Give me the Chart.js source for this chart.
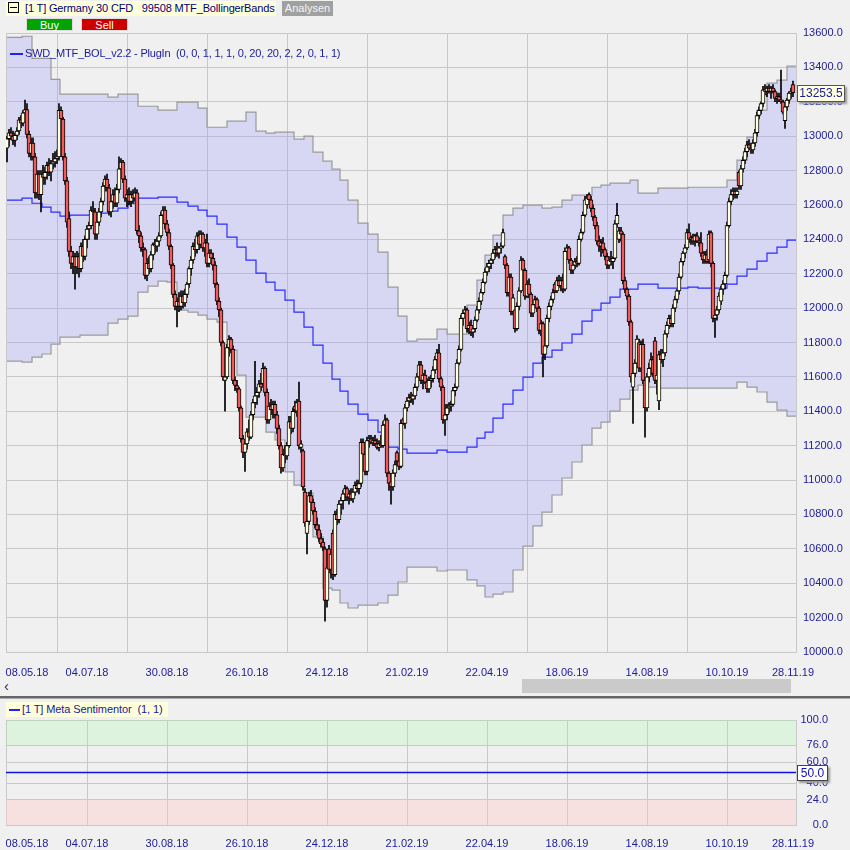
<!DOCTYPE html>
<html>
<head>
<meta charset="utf-8">
<script src="https://cdn.jsdelivr.net/npm/chart.js@4.4.0/dist/chart.umd.min.js"></script>
<style>
body{margin:0;background:#f0f0f0;font-family:"Liberation Sans",Arial,sans-serif;}
#wrap{position:relative;width:850px;height:850px;overflow:hidden;background:#f0f0f0;}
.abs{position:absolute;white-space:nowrap;}
#head{left:6px;top:1px;width:270px;height:15px;line-height:15px;background:#ffffd9;color:#00007a;font-size:11px;letter-spacing:-0.15px;overflow:hidden;}
#head .ico{display:inline-block;position:relative;width:9px;height:9px;border:1px solid #000;margin:0 6px 0 2px;vertical-align:-1px;}
#head .ico:after{content:"";position:absolute;left:1px;top:4px;width:7px;height:1px;background:#000;}
#analysen{left:282px;top:1px;width:51px;height:15px;line-height:15px;background:#a0a0a0;color:#f4f4f4;font-size:11px;text-align:center;}
#buy,#sell{top:18px;width:47px;height:13px;line-height:12px;color:#fff;font-size:11px;text-align:center;border:1px solid #ddd;box-sizing:border-box;}
#buy{left:26px;background:#00a300;}
#sell{left:81px;background:#cc0000;}
#legend1{left:10px;top:46px;font-size:11px;letter-spacing:-0.2px;color:#1a1a9a;line-height:14px;}
.mark{display:inline-block;width:13px;height:2px;background:#2020ff;vertical-align:middle;margin-right:2px;}
#last{left:797px;top:81px;width:46px;height:15px;line-height:15px;background:#ffffe1;border:1px solid #555;box-shadow:2px 2px 2px #999;font-size:12px;color:#1a1a9a;text-align:center;}
#thumb{left:522px;top:679px;width:269px;height:14px;background:#cacaca;}
#arrow{left:4px;top:677px;font-size:15px;color:#333;}
#sep{left:0;top:696px;width:850px;height:2px;background:#666;}
#sep2{left:0;top:698px;width:850px;height:1px;background:#aaa;}
#legend2{left:6px;top:702px;width:162px;height:15px;line-height:15px;background:#ffffd9;font-size:11px;letter-spacing:-0.1px;color:#1a1a9a;}
#fifty{left:797px;top:765px;width:29px;height:14px;line-height:14px;background:#fff;border:1px solid #444;box-shadow:2px 2px 2px #999;font-size:12px;color:#1010c0;text-align:center;}
</style>
</head>
<body>
<div id="wrap">
  <div class="abs" id="head"><span class="ico"></span>[1 T] Germany 30 CFD&nbsp;&nbsp; 99508 MTF_BollingerBands</div>
  <div class="abs" id="analysen">Analysen</div>
  <div class="abs" id="buy">Buy</div>
  <div class="abs" id="sell">Sell</div>
  <div class="abs" style="left:0;top:0;width:850px;height:680px;"><canvas id="main"></canvas></div>
  <div class="abs" id="legend1"><span class="mark"></span>SWD_MTF_BOL_v2.2 - PlugIn&nbsp; (0, 0, 1, 1, 1, 0, 20, 20, 2, 2, 0, 1, 1)</div>
  <div class="abs" id="last"></div>
  <div class="abs" id="arrow">&#8249;</div>
  <div class="abs" id="thumb"></div>
  <div class="abs" id="sep"></div>
  <div class="abs" id="sep2"></div>
  <div class="abs" style="left:0;top:700px;width:828px;height:150px;"><canvas id="sub"></canvas></div>
  <div class="abs" id="legend2"><span class="mark" style="width:11px;margin-left:3px;"></span>[1 T] Meta Sentimentor&nbsp; (1, 1)</div>
  <div class="abs" id="fifty"></div>
</div>
<script>
// Tageskerzen, Index = Handelstag ab 08.05.18
const opens = [
12930,12985,13020,13000,12975,13005,13030,13095,13075,13135,
13155,13010,12900,12960,12880,12670,12780,12660,12780,12760,
12790,12830,12790,12840,12850,12870,12880,13150,13100,12880,
12740,12520,12330,12260,12300,12240,12300,12230,12360,12300,
12400,12460,12480,12570,12560,12430,12500,12560,12620,12710,
12750,12700,12560,12620,12660,12610,12690,12810,12850,12750,
12640,12660,12620,12660,12640,12670,12450,12420,12350,12340,
12190,12260,12230,12310,12370,12360,12390,12420,12540,12570,
12490,12440,12360,12250,12080,12010,12040,12010,12070,12030,
12080,12140,12230,12280,12360,12340,12420,12370,12430,12350,
12380,12260,12320,12290,12250,12140,12040,11990,11800,11580,
11600,11770,11820,11760,11580,11550,11530,11420,11240,11160,
11210,11280,11250,11380,11450,11490,11510,11560,11560,11650,
11510,11350,11430,11410,11440,11380,11300,11200,11070,11150,
11140,11200,11340,11300,11430,11400,11460,11190,11170,10930,
10690,10760,10910,10870,10820,10740,10710,10660,10640,10600,
10300,10600,10480,10690,10450,10800,10770,10860,10880,10920,
10950,10900,10920,10890,10930,10970,10950,10980,11220,11150,
11050,11230,11240,11220,11230,11210,11190,11210,11200,11320,
11350,11040,10990,10960,11040,11160,11110,11080,11350,11330,
11420,11460,11480,11470,11490,11540,11600,11670,11580,11610,
11570,11530,11580,11590,11640,11700,11740,11590,11540,11350,
11380,11420,11430,11440,11520,11540,11680,11760,11940,11970,
11990,11880,11900,11860,11880,11930,11990,12040,12090,12150,
12210,12240,12260,12280,12320,12340,12320,12350,12360,12300,
12250,12090,12180,11980,11990,11880,12010,12100,12280,12220,
12070,12140,12080,11970,12020,12050,12000,11870,11910,11730,
11780,11940,12010,12050,12140,12100,12160,12130,12160,12110,
12330,12350,12280,12220,12250,12270,12260,12400,12440,12540,
12600,12660,12630,12580,12530,12480,12390,12360,12380,12340,
12300,12250,12280,12270,12290,12490,12400,12450,12430,12160,
12110,12070,11920,11540,11620,11680,11800,11650,11790,11580,
11420,11600,11650,11700,11810,11580,11460,11730,11700,11740,
11850,11900,11940,11910,12000,12050,12100,12180,12270,12320,
12350,12440,12400,12410,12390,12420,12390,12380,12320,12280,
12310,12280,12440,12260,11940,11960,11990,12040,12110,12140,
12190,12480,12620,12660,12680,12660,12790,12710,12810,12860,
12910,12950,12930,12920,12960,13020,13120,13150,13190,13270,
13260,13280,13260,13280,13260,13220,13230,13210,13200,13090,
13170,13210,13250,13300];
const highs = [
13000,13040,13050,13030,13020,13050,13110,13120,13150,13210,
13190,13030,12990,12990,12900,12800,12800,12800,12830,12820,
12850,12870,12860,12900,12910,12920,13190,13170,13110,12900,
12760,12560,12360,12330,12320,12330,12320,12380,12400,12420,
12480,12500,12590,12620,12580,12520,12580,12640,12730,12770,
12780,12720,12650,12690,12700,12720,12880,12870,12860,12770,
12690,12700,12680,12690,12700,12690,12480,12440,12380,12350,
12290,12300,12330,12380,12400,12410,12440,12560,12590,12590,
12510,12460,12370,12260,12100,12060,12090,12100,12100,12110,
12150,12240,12300,12380,12400,12440,12450,12450,12440,12400,
12430,12340,12340,12320,12270,12150,12060,12000,11810,11640,
11790,11840,11830,11780,11600,11580,11540,11430,11260,11230,
11300,11350,11400,11470,11690,11540,11580,11620,11680,11660,
11530,11450,11470,11460,11460,11400,11320,11220,11180,11200,
11220,11370,11370,11420,11460,11470,11570,11230,11180,10950,
10780,10930,10940,10890,10840,10780,10740,10690,10660,10610,
10510,10620,10590,10710,10820,10830,10880,10900,10940,10970,
10960,10940,10950,10950,10990,11000,11000,11240,11240,11160,
11250,11260,11260,11250,11260,11240,11230,11260,11340,11380,
11360,11050,11010,11060,11110,11170,11130,11350,11360,11440,
11480,11500,11510,11500,11560,11620,11690,11690,11620,11640,
11590,11600,11610,11660,11720,11760,11790,11600,11550,11440,
11440,11450,11460,11540,11560,11700,11780,11960,11990,12010,
12000,11920,11930,11900,11950,12010,12060,12110,12170,12230,
12260,12280,12290,12340,12360,12380,12360,12380,12460,12310,
12260,12200,12200,12080,12010,12030,12120,12300,12290,12230,
12160,12170,12090,12040,12070,12060,12010,11930,11920,11800,
11960,12030,12070,12110,12150,12180,12190,12180,12200,12350,
12370,12360,12290,12270,12290,12300,12420,12460,12560,12650,
12660,12670,12650,12600,12540,12500,12420,12400,12410,12350,
12320,12300,12330,12300,12510,12610,12470,12470,12440,12180,
12120,12080,11930,11640,11700,11840,11820,11810,11820,11590,
11620,11680,11740,11720,11830,11640,11750,11760,11760,11870,
11920,11960,11960,12020,12070,12110,12200,12290,12330,12370,
12460,12490,12420,12430,12430,12440,12410,12440,12330,12330,
12340,12450,12450,12270,11990,12010,12090,12130,12160,12210,
12500,12640,12690,12700,12700,12700,12800,12830,12880,12930,
12970,12980,12960,12980,13040,13140,13170,13200,13290,13300,
13290,13300,13290,13300,13270,13250,13250,13385,13210,13180,
13220,13260,13280,13320];
const lows = [
12850,12940,12980,12950,12940,12980,13010,13050,13060,13110,
12990,12880,12860,12860,12640,12640,12630,12560,12720,12720,
12750,12770,12740,12810,12820,12840,12860,13080,12860,12720,
12470,12300,12230,12200,12110,12200,12180,12210,12270,12280,
12350,12400,12460,12530,12400,12400,12480,12530,12600,12680,
12680,12540,12530,12580,12590,12590,12670,12790,12730,12620,
12590,12600,12590,12610,12620,12430,12380,12330,12300,12170,
12160,12200,12210,12280,12320,12330,12360,12410,12500,12460,
12420,12340,12230,12060,11990,11890,11980,11990,12000,12010,
12060,12120,12190,12260,12300,12320,12340,12350,12330,12300,
12240,12240,12260,12220,12120,12020,11950,11780,11580,11400,
11590,11720,11740,11560,11520,11510,11400,11220,11130,11050,
11180,11230,11240,11350,11420,11440,11480,11520,11540,11490,
11330,11330,11380,11360,11360,11270,11180,11040,11050,11100,
11120,11190,11270,11280,11390,11370,11180,11160,10940,10730,
10570,10740,10850,10800,10720,10680,10640,10610,10590,10180,
10260,10460,10430,10420,10440,10740,10750,10800,10830,10880,
10880,10860,10880,10870,10910,10930,10920,10960,11130,11030,
11030,11190,11210,11200,11200,11180,11170,11190,11190,11300,
11020,10940,10860,10940,11020,11090,11060,11070,11320,11300,
11400,11430,11450,11440,11470,11520,11580,11560,11530,11560,
11510,11510,11540,11570,11620,11680,11570,11520,11330,11260,
11350,11390,11400,11430,11490,11530,11670,11750,11900,11950,
11860,11850,11840,11830,11860,11920,11970,12020,12080,12140,
12190,12210,12230,12260,12290,12300,12290,12320,12350,12230,
12070,12070,11960,11960,11860,11870,11990,12090,12200,12050,
12060,12060,11950,11950,12000,11980,11850,11840,11600,11700,
11770,11920,11990,12030,12090,12090,12120,12100,12090,12100,
12300,12260,12200,12200,12230,12240,12250,12390,12430,12530,
12580,12620,12560,12510,12460,12370,12330,12300,12320,12280,
12230,12230,12250,12230,12280,12470,12380,12390,12140,12090,
12050,11900,11570,11330,11600,11660,11630,11630,11560,11250,
11400,11570,11610,11600,11560,11500,11410,11680,11660,11720,
11830,11880,11890,11890,11980,12030,12080,12170,12250,12290,
12340,12380,12370,12370,12360,12380,12360,12300,12260,12260,
12260,12260,12240,11920,11830,11930,11970,12020,12080,12110,
12180,12470,12600,12630,12640,12640,12690,12690,12790,12840,
12880,12920,12900,12900,12940,13000,13100,13130,13170,13240,
13230,13250,13220,13250,13200,13190,13200,13190,13130,13045,
13150,13190,13220,13230];
const closes = [
12985,13020,13000,12975,13005,13030,13095,13075,13135,13155,
13010,12900,12960,12880,12670,12780,12660,12780,12760,12790,
12830,12790,12840,12850,12870,12880,13150,13100,12880,12740,
12500,12330,12260,12300,12240,12300,12230,12360,12300,12400,
12460,12480,12570,12560,12430,12500,12560,12620,12710,12750,
12700,12560,12620,12660,12610,12690,12810,12850,12750,12640,
12660,12620,12660,12640,12670,12450,12420,12350,12340,12190,
12260,12230,12310,12370,12360,12390,12420,12540,12570,12490,
12440,12360,12250,12080,12010,12040,12010,12070,12030,12080,
12140,12230,12280,12360,12340,12420,12370,12430,12350,12380,
12260,12320,12290,12250,12140,12040,11990,11800,11600,11600,
11770,11820,11760,11580,11550,11530,11420,11240,11160,11210,
11280,11250,11380,11450,11490,11510,11560,11540,11650,11510,
11350,11430,11410,11440,11380,11300,11200,11070,11150,11140,
11200,11340,11300,11400,11410,11450,11200,11210,10960,10750,
10760,10910,10870,10820,10740,10710,10660,10630,10610,10300,
10490,10480,10570,10450,10800,10770,10860,10880,10920,10950,
10900,10920,10890,10930,10970,10950,10980,11220,11150,11050,
11230,11240,11220,11230,11210,11190,11210,11200,11320,11350,
11040,10980,10960,11040,11090,11110,11080,11330,11330,11420,
11460,11480,11470,11490,11540,11600,11670,11580,11610,11570,
11530,11580,11590,11640,11700,11740,11590,11540,11350,11380,
11420,11430,11440,11520,11540,11680,11760,11940,11970,11990,
11880,11900,11860,11880,11930,11990,12040,12090,12150,12210,
12240,12260,12280,12320,12340,12320,12350,12360,12440,12250,
12090,12180,11980,12060,11880,12010,12100,12280,12220,12070,
12140,12080,11970,12020,12050,12000,11870,11910,11730,11780,
11940,12010,12050,12090,12100,12160,12130,12160,12110,12330,
12350,12280,12220,12250,12270,12260,12400,12440,12540,12630,
12640,12630,12580,12530,12480,12390,12360,12380,12340,12300,
12250,12280,12270,12290,12490,12540,12450,12430,12160,12110,
12070,11920,11600,11620,11680,11820,11650,11790,11580,11420,
11600,11650,11700,11620,11580,11610,11730,11700,11740,11850,
11900,11940,11910,12000,12050,12100,12180,12270,12320,12350,
12440,12400,12410,12390,12420,12390,12380,12320,12280,12310,
12270,12430,12260,11940,11960,11990,12070,12110,12140,12190,
12480,12620,12660,12680,12660,12680,12710,12810,12860,12910,
12950,12930,12920,12960,13020,13120,13150,13190,13270,13260,
13280,13260,13280,13260,13220,13230,13210,13200,13140,13170,
13210,13250,13260,13253.5];

// MTF-Bollinger (Wochenwerte), Beginn jeder Stufe als Kerzen-Index
const weekStart = [0,7.5,12.5,17.5,22,26.5,31.5,36.5,41.5,46,50.5,55.5,60.5,65.5,70.5,75.5,80,85,90.5,95.5,
100,105,110,115,119.5,124.5,129.5,134,139,143.5,148.5,153,158,162.5,166.5,170.5,175.5,180.5,185.5,190.5,
195.5,200,205,210,215,220,225,230,235,239,243,248,253,258,263,267.5,272.5,277.5,282.5,287.5,
292.5,297,301.5,306.5,311.5,315.5,320.5,325.5,330.5,335.5,340.5,345.5,350.5,355.5,360,365,370,375,380,385,390];
const upperBand = [13575,13581,13453,13453,13330,13244,13244,13244,13244,13244,13227,13244,13244,13174,13174,13151,13151,13198,13198,13163,
13052,13052,13087,13087,13140,13029,13018,13023,13023,12983,13000,12907,12855,12808,12744,12628,12494,12430,12326,12122,
11953,11808,11820,11820,11878,11849,11849,12017,12163,12308,12424,12541,12582,12599,12599,12582,12587,12628,12657,12657,
12703,12715,12727,12727,12744,12669,12669,12698,12698,12698,12703,12703,12703,12703,12744,12861,12994,13151,13308,13326,13407];
const middleBand = [12628,12640,12610,12587,12558,12535,12541,12541,12552,12552,12564,12581,12610,12640,12640,12645,12645,12616,12593,12570,
12535,12488,12413,12355,12279,12204,12151,12105,12047,11977,11890,11785,11680,11587,11517,11442,11384,11349,11279,11192,
11180,11157,11157,11157,11174,11163,11163,11192,11244,11279,11360,11442,11523,11599,11680,11715,11756,11797,11849,11924,
11988,12029,12064,12111,12111,12140,12140,12116,12116,12116,12122,12116,12116,12116,12140,12186,12227,12273,12320,12355,12395];
const lowerBand = [11692,11686,11715,11733,11791,11831,11831,11843,11843,11843,11913,11936,11953,12093,12128,12157,12151,11988,11977,11959,
11936,11919,11756,11610,11366,11366,11279,11233,11047,10971,10924,10670,10372,10360,10285,10256,10273,10273,10285,10331,
10407,10494,10494,10494,10471,10477,10477,10419,10384,10320,10337,10349,10477,10616,10733,10814,10913,11012,11105,11204,
11302,11337,11401,11471,11523,11552,11541,11535,11535,11535,11535,11535,11535,11535,11535,11570,11541,11512,11453,11407,11372];

const dateTickBars = [0,40,80,120,160,200,240,280,320,360,393];
const dateTickLabels = ['08.05.18','04.07.18','30.08.18','26.10.18','24.12.18','21.02.19','22.04.19','18.06.19','14.08.19','10.10.19','28.11.19'];

// Meta Sentimentor
const sentimentValues = [50, 50];
const sentimentBars = [-0.5, 394.5];
const greenZone = [76, 100];
const redZone = [0, 24];
const sentimentTicks = [0, 24, 40, 60, 76, 100];

const axisColor = '#20209a', gridColor = '#c8c8c8';
const xMin = -0.5, xMax = 394.5;
Chart.defaults.font.family = '"Liberation Sans", Arial, sans-serif';
Chart.defaults.font.size = 11;
Chart.defaults.animation = false;

const stepPoints = (vals) => {
    const pts = weekStart.map((x, k) => ({ x: x, y: vals[k] }));
    pts.push({ x: xMax, y: vals[vals.length - 1] });
    return pts;
};

function xScale(labelPad, h) {
    return {
        type: 'linear', min: xMin, max: xMax, offset: false,
        afterBuildTicks: s => { s.ticks = dateTickBars.map((v, i) => ({ value: i === 0 ? v + 10 : v })); },
        afterFit: s => { s.height = h; s.paddingLeft = 0; s.paddingRight = 0; },
        ticks: { autoSkip: false, maxRotation: 0, color: axisColor, padding: labelPad,
                 callback: (v, i) => dateTickLabels[i] },
        grid: { color: c => (c.index === 0 || c.index === dateTickBars.length - 1) ? 'rgba(0,0,0,0)' : gridColor, drawTicks: false },
        border: { color: gridColor }
    };
}

const leftEdge = { position: 'left', ticks: { display: false }, grid: { display: false, drawTicks: false },
                   border: { color: gridColor }, afterFit: s => { s.width = 0; } };

const boxLabels = {
    id: 'boxLabels',
    afterDraw(chart, args, opts) {
        const el = document.getElementById(opts.el);
        el.textContent = opts.value.toFixed(1);
        el.style.top = (opts.offset + chart.scales.y.getPixelForValue(opts.value) - 8) + 'px';
    }
};

const bodyColors = opens.map((o, i) => closes[i] < o ? '#ef5a5a' : '#ffffe0');

new Chart('main', {
    type: 'bar',
    data: {
        datasets: [
            { type: 'line', data: stepPoints(upperBand), stepped: true, borderColor: '#999', borderWidth: 1.2, pointRadius: 0, fill: false, order: 5 },
            { type: 'line', data: stepPoints(lowerBand), stepped: true, borderColor: '#999', borderWidth: 1.2, pointRadius: 0,
              fill: { target: 0 }, backgroundColor: 'rgba(160,160,255,0.3)', order: 4 },
            { type: 'line', data: stepPoints(middleBand), stepped: true, borderColor: '#2a2aff', borderWidth: 1.2, pointRadius: 0, fill: false, order: 3 },
            { type: 'bar', data: lows.map((l, i) => ({ x: i, y: [l, highs[i]] })), backgroundColor: '#000', barThickness: 1, grouped: false, order: 2 },
            { type: 'bar', data: opens.map((o, i) => ({ x: i, y: [o, closes[i]] })), backgroundColor: bodyColors, borderColor: '#000',
              borderWidth: 1, borderSkipped: false, barThickness: 4, minBarLength: 1, grouped: false, order: 1 }
        ]
    },
    options: {
        responsive: true, maintainAspectRatio: false, events: [],
        layout: { padding: { top: 33, left: 6, right: 0, bottom: 0 } },
        plugins: { legend: { display: false }, tooltip: { enabled: false },
                   filler: { drawTime: 'beforeDatasetsDraw' },
                   boxLabels: { el: 'last', value: closes[closes.length - 1], offset: 0 } },
        scales: {
            x: xScale(14, 28),
            y: { position: 'right', min: 10000, max: 13600,
                 ticks: { stepSize: 200, color: axisColor, padding: 7, callback: v => v.toFixed(1) },
                 grid: { color: gridColor, drawTicks: false }, border: { color: gridColor },
                 afterFit: s => { s.width = 54; } },
            yl: leftEdge
        }
    },
    plugins: [boxLabels]
});

new Chart('sub', {
    type: 'line',
    data: {
        datasets: [
            { data: [{ x: xMin, y: greenZone[0] }, { x: xMax, y: greenZone[0] }], borderWidth: 0, pointRadius: 0,
              fill: { value: greenZone[1] }, backgroundColor: 'rgba(150,255,150,0.2)' },
            { data: [{ x: xMin, y: redZone[1] }, { x: xMax, y: redZone[1] }], borderWidth: 0, pointRadius: 0,
              fill: { value: redZone[0] }, backgroundColor: 'rgba(255,200,200,0.4)' },
            { data: sentimentBars.map((x, i) => ({ x: x, y: sentimentValues[i] })), borderColor: '#1010e0', borderWidth: 1.6,
              pointRadius: 0, fill: false }
        ]
    },
    options: {
        responsive: true, maintainAspectRatio: false, events: [],
        layout: { padding: { top: 20, left: 6, right: 0, bottom: 0 } },
        plugins: { legend: { display: false }, tooltip: { enabled: false },
                   boxLabels: { el: 'fifty', value: sentimentValues[sentimentValues.length - 1], offset: 700 } },
        scales: {
            x: xScale(12, 25),
            y: { position: 'right', min: 0, max: 100,
                 afterBuildTicks: s => { s.ticks = sentimentTicks.map(v => ({ value: v })); },
                 ticks: { color: axisColor, padding: 6, crossAlign: 'far', callback: v => v.toFixed(1) },
                 grid: { color: gridColor, drawTicks: false }, border: { color: gridColor },
                 afterFit: s => { s.width = 32; } },
            yl: leftEdge
        }
    },
    plugins: [boxLabels]
});
</script>
</body>
</html>
